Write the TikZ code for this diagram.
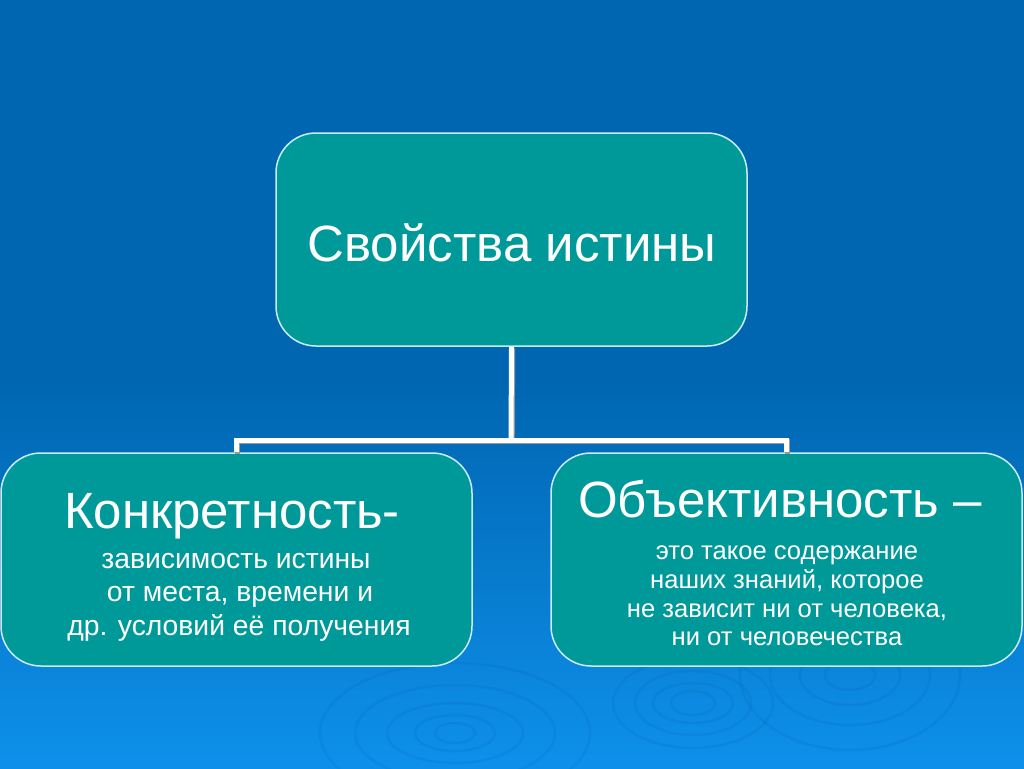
\documentclass[tikz,border=0pt]{standalone}
\usepackage{fontspec}
\setmainfont{Liberation Sans}
\definecolor{bgtop}{RGB}{0,102,177}
\definecolor{bgbot}{RGB}{14,144,234}
\definecolor{boxfill}{RGB}{0,153,153}
\definecolor{boxline}{RGB}{200,236,242}
\definecolor{ripple}{RGB}{0,90,170}
\tikzset{
  box/.style={draw=boxline, line width=1.5pt, fill=boxfill, rounded corners=40pt,
    minimum width=471pt, minimum height=213pt, inner sep=0pt},
  big/.style={text=white, inner sep=0pt, anchor=base, font=\fontsize{51}{58}\selectfont},
  smallL/.style={text=white, inner sep=0pt, anchor=base, font=\fontsize{28.3}{34}\selectfont},
  smallR/.style={text=white, inner sep=0pt, anchor=base, font=\fontsize{25.6}{30}\selectfont},
  conn/.style={draw=white, line width=5pt},
  connshadow/.style={draw=black!40, line width=5pt},
  rip/.style={draw=ripple, opacity=0.13, line width=2.5pt}
}
\begin{document}
\begin{tikzpicture}[x=1pt,y=-1pt]
\useasboundingbox (0,0) rectangle (1024,768);
\fill[bgtop] (0,0) rectangle (1024,768);
\shade[top color=bgtop, bottom color=bgbot] (0,380) rectangle (1024,768);
% ripples
\foreach \r/\s in {20/10, 40/18, 68/30, 100/48, 135/70}{
  \draw[rip] (455,733) ellipse ({\r} and {\s});
}
\foreach \r/\s in {22/12, 40/20, 58/32, 80/45}{
  \draw[rip] (693,703) ellipse ({\r} and {\s});
}
\foreach \r/\s in {25/15, 50/30, 80/50, 110/75}{
  \draw[rip] (850,675) ellipse ({\r} and {\s});
}
% boxes
\node[box] (top) at (511.5,239.5) {};
\node[box] (left) at (236.5,559.5) {};
\node[box] (right) at (786.5,559.5) {};
% connectors
\coordinate (j) at (511,440);
\begin{scope}[transform canvas={shift={(1.2pt,-1.5pt)}}]
\draw[connshadow] (top.south) -- (j);
\draw[connshadow] (left.north) |- (j) -| (right.north);
\end{scope}
\draw[conn] (top.south) -- (j);
\draw[conn] (left.north) |- (j) -| (right.north);
% texts
\node[big] (t0) at (512,261) {Свойства истины};
\node[big] (t1) at (232,528) {Конкретность-};
\node[smallL] (t1a) at (236,568) {зависимость истины};
\node[smallL] (t1b) at (240,601) {от места, времени и};
\node[smallL] (t1c) at (239,635) {др. условий её получения};
\node[big] (t2) at (780,517) {Объективность –};
\node[smallR] (t2a) at (787,559) {это такое содержание};
\node[smallR] (t2b) at (787,588) {наших знаний, которое};
\node[smallR] (t2c) at (787,617) {не зависит ни от человека,};
\node[smallR] (t2d) at (787,645) {ни от человечества};
\end{tikzpicture}
\end{document}
